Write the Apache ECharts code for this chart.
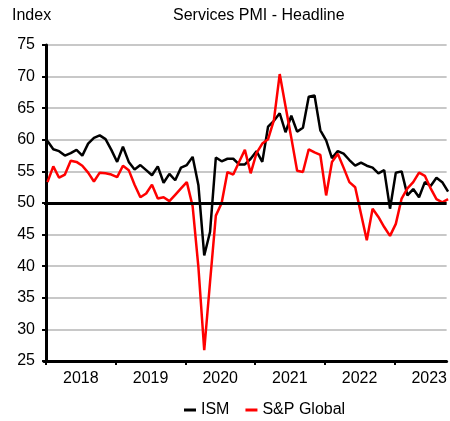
<!DOCTYPE html>
<html>
<head>
<meta charset="utf-8">
<title>Services PMI - Headline</title>
<script src="https://cdn.jsdelivr.net/npm/echarts@6/dist/echarts.min.js"></script>
<style>
  html, body { margin: 0; padding: 0; background: #fff; }
  #chart { width: 450px; height: 421px; }
</style>
</head>
<body>
<div id="chart"></div>
<script>
// monthly readings, Jan 2018 .. Oct 2023
var years = ['2018', '2019', '2020', '2021', '2022', '2023']
var ism = [
  59.8, 58.5, 58.2, 57.5, 57.9, 58.4, 57.5, 59.4, 60.3, 60.7, 60.1, 58.4,
  56.5, 58.9, 56.5, 55.3, 56.0, 55.2, 54.4, 55.8, 53.2, 54.6, 53.6, 55.6,
  56.0, 57.3, 52.8, 41.7, 45.4, 57.2, 56.6, 57.0, 57.0, 56.1, 56.1, 57.0,
  58.2, 56.5, 62.1, 63.0, 64.2, 61.2, 63.8, 61.3, 61.9, 66.8, 67.0, 61.5,
  59.9, 57.1, 58.2, 57.8, 56.8, 55.9, 56.4, 55.9, 55.6, 54.7, 55.2, 49.1,
  54.8, 55.0, 51.2, 52.2, 50.9, 53.3, 52.7, 54.0, 53.3, 51.8
]
var spGlobal = [
  53.3, 55.8, 54.0, 54.5, 56.7, 56.5, 55.9, 54.8, 53.4, 54.8, 54.7, 54.5,
  54.1, 55.9, 55.2, 52.9, 50.9, 51.5, 52.9, 50.7, 50.9, 50.3, 51.3, 52.3,
  53.3, 49.5, 39.8, 26.7, 37.5, 48.0, 50.0, 54.9, 54.5, 56.5, 58.4, 54.7,
  57.9, 59.4, 60.1, 63.1, 70.4, 65.3, 60.3, 55.1, 54.9, 58.5, 58.0, 57.6,
  51.2, 56.5, 57.8, 55.6, 53.3, 52.5, 48.3, 44.1, 49.1, 47.8, 46.2, 44.8,
  46.7, 50.7, 52.3, 53.3, 54.8, 54.3, 52.3, 50.6, 50.1, 50.6
]

var font = "'Liberation Sans', Arial, sans-serif"

// month index -> x value (year boundaries sit on multiples of 12)
function toPoints(arr) {
  return arr.map(function (v, i) { return [i + 0.25, v] })
}

var chart = echarts.init(document.getElementById('chart'), null, { renderer: 'canvas' })
chart.setOption({
  animation: false,
  textStyle: { fontFamily: font, color: '#000' },
  title: [{
    text: 'Index',
    left: 12,
    top: 8,
    padding: 0,
    textStyle: { fontFamily: font, fontSize: 16, fontWeight: 'normal', color: '#000' }
  }, {
    text: 'Services PMI - Headline',
    left: 173,
    top: 8,
    padding: 0,
    textStyle: { fontFamily: font, fontSize: 16, fontWeight: 'normal', color: '#000' }
  }],
  legend: {
    data: ['ISM', 'S&P Global'],
    left: 184,
    top: 402,
    padding: 0,
    icon: 'rect',
    itemWidth: 12,
    itemHeight: 3,
    itemGap: 16,
    textStyle: { fontFamily: font, fontSize: 16, color: '#000' }
  },
  grid: {
    left: 44,
    right: 0,
    top: 45,
    bottom: 60
  },
  xAxis: {
    type: 'value',
    min: -0.35,
    max: 69,
    axisLine: { onZero: false, lineStyle: { color: '#000', width: 3 } },
    axisTick: {
      customValues: [0, 12, 24, 36, 48, 60],
      length: 4,
      lineStyle: { color: '#000', width: 2 }
    },
    axisLabel: {
      customValues: [6, 18, 30, 42, 54, 66],
      formatter: function (v) { return years[Math.round((v - 6) / 12)] },
      fontFamily: font,
      fontSize: 16,
      color: '#000',
      margin: 10
    },
    splitLine: { show: false }
  },
  yAxis: {
    type: 'value',
    min: 25,
    max: 75,
    interval: 5,
    axisLine: { show: true, lineStyle: { color: '#000', width: 3 } },
    axisTick: { show: true, length: 4, lineStyle: { color: '#000', width: 2 } },
    axisLabel: { fontFamily: font, fontSize: 16, color: '#000', margin: 9 },
    splitLine: { lineStyle: { color: '#c8c8c8', width: 2 } }
  },
  series: [{
    name: 'ISM',
    type: 'line',
    symbol: 'none',
    color: '#000',
    lineStyle: { color: '#000', width: 2.5 },
    data: toPoints(ism),
    markLine: {
      silent: true,
      symbol: ['none', 'none'],
      label: { show: false },
      lineStyle: { color: '#000', width: 3, type: 'solid' },
      data: [{ yAxis: 50 }]
    }
  }, {
    name: 'S&P Global',
    type: 'line',
    symbol: 'none',
    color: '#ff0000',
    lineStyle: { color: '#ff0000', width: 2.5 },
    data: toPoints(spGlobal)
  }]
})
</script>
</body>
</html>
